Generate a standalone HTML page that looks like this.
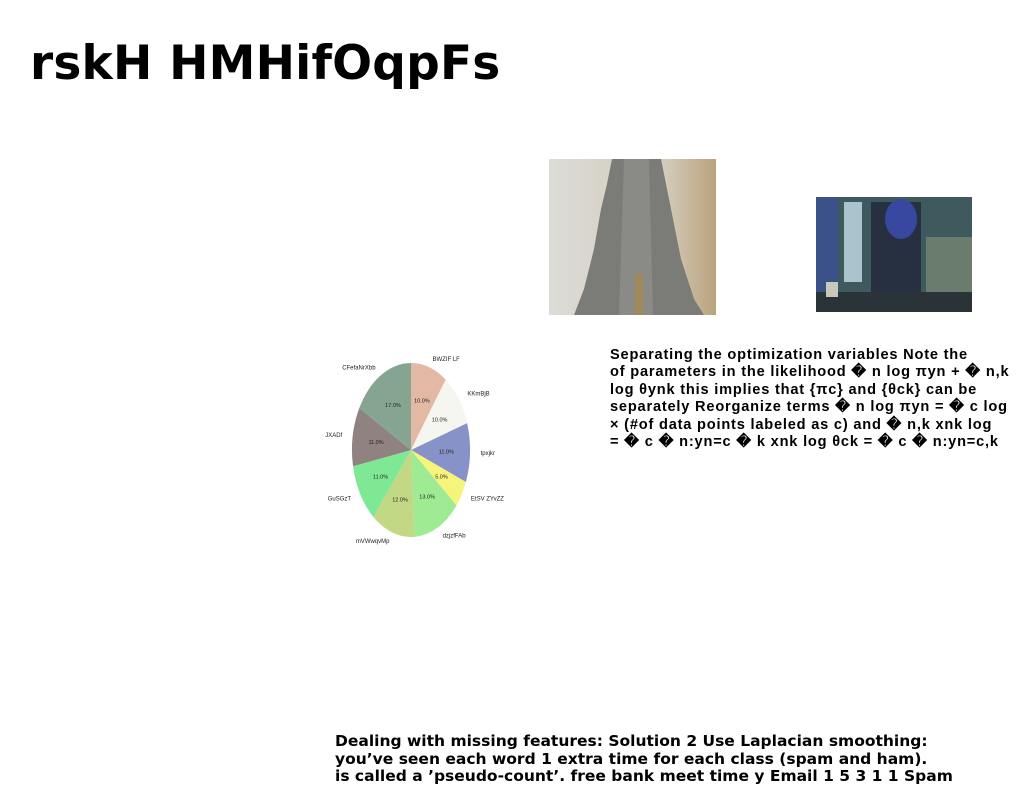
<!DOCTYPE html>
<html><head><meta charset="utf-8">
<style>
html,body{margin:0;padding:0;background:#fff;}
body{width:1024px;height:788px;position:relative;overflow:hidden;font-family:"DejaVu Sans","Liberation Sans",sans-serif;}
h1{position:absolute;left:30px;top:36px;margin:0;font-size:47px;font-weight:bold;color:#000;letter-spacing:0.2px;line-height:56px;white-space:nowrap;}
.img{position:absolute;}
.para1{position:absolute;left:610px;top:347px;font-size:14.6px;font-weight:bold;line-height:17.4px;color:#000;font-family:"Liberation Sans",sans-serif;letter-spacing:0.8px;white-space:nowrap;}
.para2{position:absolute;left:335px;top:733px;font-size:15.5px;font-weight:bold;line-height:17.5px;color:#000;font-family:"DejaVu Sans","Liberation Sans",sans-serif;white-space:nowrap;}
</style></head><body>
<h1>rskH HMHifOqpFs</h1>

<svg class="img" style="left:549px;top:159px" width="167" height="156">
<defs><linearGradient id="sky" x1="0" x2="1"><stop offset="0" stop-color="#dcdcd8"/><stop offset="0.7" stop-color="#d3cab8"/><stop offset="1" stop-color="#b9a37d"/></linearGradient></defs>
<rect width="167" height="156" fill="url(#sky)"/>
<polygon points="63,0 112,0 118,30 124,60 132,100 145,140 155,156 25,156 35,130 45,90 52,50 58,25" fill="#7b7b78"/>
<polygon points="75,0 100,0 104,156 70,156" fill="#8a8a86"/>
<rect x="86" y="115" width="8" height="41" fill="#a08a5a"/>
</svg>

<svg class="img" style="left:816px;top:197px" width="156" height="115">
<rect width="156" height="115" fill="#3e5a5e"/>
<rect x="0" y="0" width="22" height="115" fill="#3a5288"/>
<rect x="28" y="5" width="18" height="80" fill="#a9c4cc"/>
<rect x="55" y="5" width="50" height="100" fill="#263040"/>
<ellipse cx="85" cy="22" rx="16" ry="20" fill="#3848a0"/>
<rect x="110" y="40" width="46" height="75" fill="#6a7c6c"/>
<rect x="0" y="95" width="156" height="20" fill="#2a3338"/>
<rect x="10" y="85" width="12" height="15" fill="#c8c8bc"/>
</svg>

<svg id="pie" style="position:absolute;left:320px;top:345px" width="200" height="205"></svg>

<div class="para1">Separating the optimization variables Note the<br>of parameters in the likelihood � n log πyn + � n,k<br>log θynk this implies that {πc} and {θck} can be<br>separately Reorganize terms � n log πyn = � c log<br>× (#of data points labeled as c) and � n,k xnk log<br>= � c � n:yn=c � k xnk log θck = � c � n:yn=c,k</div>

<div class="para2">Dealing with missing features: Solution 2 Use Laplacian smoothing:<br>you’ve seen each word 1 extra time for each class (spam and ham).<br>is called a ’pseudo-count’. free bank meet time y Email 1 5 3 1 1 Spam</div>

<script>
const categories = ["BWZIF LF","KKmBjB","tpxjkr","EtSV ZYvZZ","dzjzfFAb","mVWwqvMp","GuSGzT","JXADf","CFefaNrXbb"];
const values = [10,10,11,5,13,12,11,11,17];
const colors = ["#e3b9a5","#f5f6ef","#8792c8","#f6f47a","#9eeb94","#c2d884","#7fe894","#8f8280","#85a590"];
const svg = document.getElementById('pie');
const NS = "http://www.w3.org/2000/svg";
const cx = 91, cy = 105, rx = 59, ry = 87;
const total = values.reduce((a,b)=>a+b,0);
function pt(frac, sx, sy){ const a = frac*2*Math.PI; return [cx + sx*Math.sin(a), cy - sy*Math.cos(a)]; }
let acc = 0;
values.forEach((v,i)=>{
  const f0 = acc/total, f1 = (acc+v)/total; acc += v;
  const p0 = pt(f0,rx,ry), p1 = pt(f1,rx,ry);
  const large = (f1-f0)>0.5?1:0;
  const path = document.createElementNS(NS,'path');
  path.setAttribute('d',`M${cx},${cy} L${p0[0]},${p0[1]} A${rx},${ry} 0 ${large} 1 ${p1[0]},${p1[1]} Z`);
  path.setAttribute('fill',colors[i]);
  
  
  svg.appendChild(path);
  const fm = (f0+f1)/2;
  const pl = pt(fm, rx*0.6, ry*0.6);
  const t = document.createElementNS(NS,'text');
  t.setAttribute('x',pl[0]); t.setAttribute('y',pl[1]+2);
  t.setAttribute('text-anchor','middle'); t.setAttribute('font-size','5.5');
  t.setAttribute('font-family','Liberation Sans, sans-serif'); t.setAttribute('fill','#222');
  t.textContent = v.toFixed(1)+'%';
  
  
  svg.appendChild(t);
  const po = pt(fm, rx*1.18, ry*1.1);
  const l = document.createElementNS(NS,'text');
  l.setAttribute('x',po[0]); l.setAttribute('y',po[1]+2);
  const s = Math.sin(fm*2*Math.PI);
  l.setAttribute('text-anchor', s>0.1?'start':(s<-0.1?'end':'middle'));
  l.setAttribute('font-size','6'); l.setAttribute('font-family','Liberation Sans, sans-serif'); l.setAttribute('fill','#222');
  l.textContent = categories[i];
  
  
  svg.appendChild(l);
});
</script>
</body></html>
